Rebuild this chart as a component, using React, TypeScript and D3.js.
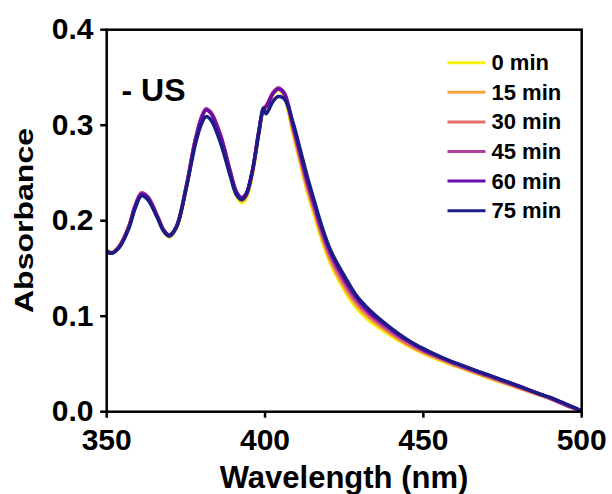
import React from "react";
import * as d3 from "d3";

const wavelength = [350, 351.6, 354, 357, 359, 361, 363, 366, 368, 369.8, 372, 375, 378, 380, 381.4, 383, 386, 389, 391, 392.6, 394, 396, 398, 399.5, 400.3, 401, 402.5, 404.2, 406, 408.9, 411, 413.2, 415.8, 417.4, 420.7, 425.8, 429, 433, 440, 444.7, 450, 455, 460, 470, 480, 486.4, 490, 495, 500];

const min0 = [0.168, 0.166, 0.173, 0.194, 0.215, 0.228, 0.224, 0.204, 0.189, 0.183, 0.192, 0.233, 0.284, 0.308, 0.316, 0.312, 0.288, 0.250, 0.226, 0.219, 0.223, 0.248, 0.290, 0.316, 0.318, 0.322, 0.332, 0.337, 0.330, 0.290, 0.262, 0.232, 0.203, 0.185, 0.155, 0.123, 0.108, 0.095, 0.079, 0.070, 0.061, 0.054, 0.048, 0.036, 0.025, 0.018, 0.014, 0.007, 0.001];
const min15 = [0.169, 0.167, 0.174, 0.195, 0.216, 0.229, 0.225, 0.205, 0.190, 0.184, 0.193, 0.234, 0.285, 0.309, 0.317, 0.313, 0.289, 0.251, 0.228, 0.221, 0.225, 0.250, 0.292, 0.317, 0.320, 0.324, 0.334, 0.338, 0.332, 0.293, 0.265, 0.235, 0.207, 0.189, 0.158, 0.126, 0.111, 0.098, 0.081, 0.071, 0.062, 0.055, 0.049, 0.037, 0.025, 0.018, 0.014, 0.007, 0.001];
const min30 = [0.168, 0.166, 0.173, 0.194, 0.216, 0.229, 0.225, 0.205, 0.190, 0.184, 0.193, 0.234, 0.285, 0.309, 0.317, 0.313, 0.289, 0.252, 0.229, 0.222, 0.226, 0.251, 0.292, 0.317, 0.320, 0.324, 0.334, 0.339, 0.333, 0.295, 0.267, 0.238, 0.209, 0.191, 0.161, 0.129, 0.114, 0.100, 0.082, 0.072, 0.063, 0.056, 0.049, 0.037, 0.026, 0.018, 0.014, 0.007, 0.001];
const min45 = [0.168, 0.166, 0.173, 0.194, 0.216, 0.229, 0.225, 0.205, 0.190, 0.185, 0.194, 0.234, 0.285, 0.309, 0.317, 0.313, 0.289, 0.252, 0.230, 0.224, 0.228, 0.252, 0.293, 0.317, 0.320, 0.324, 0.334, 0.339, 0.334, 0.298, 0.270, 0.241, 0.212, 0.194, 0.164, 0.132, 0.116, 0.102, 0.084, 0.074, 0.064, 0.057, 0.050, 0.038, 0.026, 0.019, 0.014, 0.007, 0.001];
const min60 = [0.168, 0.166, 0.173, 0.193, 0.215, 0.228, 0.224, 0.204, 0.190, 0.185, 0.194, 0.233, 0.284, 0.308, 0.316, 0.312, 0.288, 0.251, 0.230, 0.224, 0.228, 0.252, 0.293, 0.317, 0.319, 0.323, 0.333, 0.338, 0.334, 0.300, 0.272, 0.244, 0.215, 0.197, 0.167, 0.135, 0.119, 0.104, 0.086, 0.075, 0.065, 0.058, 0.051, 0.039, 0.027, 0.019, 0.015, 0.008, 0.001];
const min75 = [0.168, 0.166, 0.172, 0.192, 0.213, 0.226, 0.222, 0.203, 0.189, 0.184, 0.193, 0.232, 0.280, 0.302, 0.309, 0.305, 0.281, 0.247, 0.227, 0.222, 0.227, 0.252, 0.291, 0.318, 0.312, 0.315, 0.325, 0.330, 0.328, 0.302, 0.276, 0.248, 0.218, 0.200, 0.169, 0.138, 0.121, 0.1065, 0.087, 0.076, 0.066, 0.058, 0.051, 0.039, 0.027, 0.019, 0.015, 0.008, 0.001];

const seriesNames = ["0 min", "15 min", "30 min", "45 min", "60 min", "75 min"];
const seriesValues = [min0, min15, min30, min45, min60, min75];
const seriesColors = ["#f2f20c", "#f7a540", "#e3706a", "#b43c9a", "#6a0dad", "#1c1c86"];

const xTicks = [350, 400, 450, 500];
const yTicks = [0.0, 0.1, 0.2, 0.3, 0.4];

const FONT = "'Liberation Sans', Arial, Helvetica, sans-serif";

export default function App() {
  const x = d3.scaleLinear().domain([350, 500]).range([106.7, 581.7]);
  const y = d3.scaleLinear().domain([0, 0.4]).range([411.7, 29.7]);

  const line = d3
    .line<number>()
    .x((_, i) => x(wavelength[i]))
    .y((d) => y(d))
    .curve(d3.curveCatmullRom.alpha(0.5));

  const legendX0 = 447.5;
  const legendX1 = 485.5;
  const legendY0 = 62.7;
  const legendStep = 29.6;

  return (
    <svg
      width={612}
      height={494}
      style={{ position: "absolute", left: 0, top: 0, background: "#fff" }}
      fontFamily={FONT}
      fontWeight="bold"
    >
      <rect x={0} y={0} width={612} height={494} fill="#fff" />
      {seriesValues.map((vals, i) => (
        <path
          key={seriesNames[i]}
          d={line(vals) || ""}
          fill="none"
          stroke={seriesColors[i]}
          strokeWidth={3.5}
          strokeLinejoin="round"
        />
      ))}
      <rect
        x={x(350)}
        y={y(0.4)}
        width={x(500) - x(350)}
        height={y(0) - y(0.4)}
        fill="none"
        stroke="#000"
        strokeWidth={2.5}
      />
      {yTicks.map((t) => (
        <g key={"y" + t}>
          <line x1={x(350) - 6.5} x2={x(350)} y1={y(t)} y2={y(t)} stroke="#000" strokeWidth={2.5} />
          <text x={93.5} y={y(t) + 9.5} textAnchor="end" fontSize={30} fill="#000">
            {d3.format(".1f")(t)}
          </text>
        </g>
      ))}
      {xTicks.map((t) => (
        <g key={"x" + t}>
          <line x1={x(t)} x2={x(t)} y1={y(0)} y2={y(0) + 6} stroke="#000" strokeWidth={2.5} />
          <text x={x(t)} y={450} textAnchor="middle" fontSize={30} fill="#000">
            {t}
          </text>
        </g>
      ))}
      <text x={344} y={488} textAnchor="middle" fontSize={31} fill="#000">
        Wavelength (nm)
      </text>
      <text
        transform={`translate(33.3, 220.5) rotate(-90)`}
        textAnchor="middle"
        fontSize={26}
        textLength={185}
        lengthAdjust="spacingAndGlyphs"
        fill="#000"
      >
        Absorbance
      </text>
      <text x={121.5} y={101} fontSize={32} fill="#000">
        - US
      </text>
      {seriesNames.map((name, i) => {
        const yy = legendY0 + i * legendStep;
        return (
          <g key={"lg" + name}>
            <line x1={legendX0} x2={legendX1} y1={yy} y2={yy} stroke={seriesColors[i]} strokeWidth={3} />
            <text x={491.5} y={yy + 7.5} fontSize={22} fill="#000">
              {name}
            </text>
          </g>
        );
      })}
    </svg>
  );
}
